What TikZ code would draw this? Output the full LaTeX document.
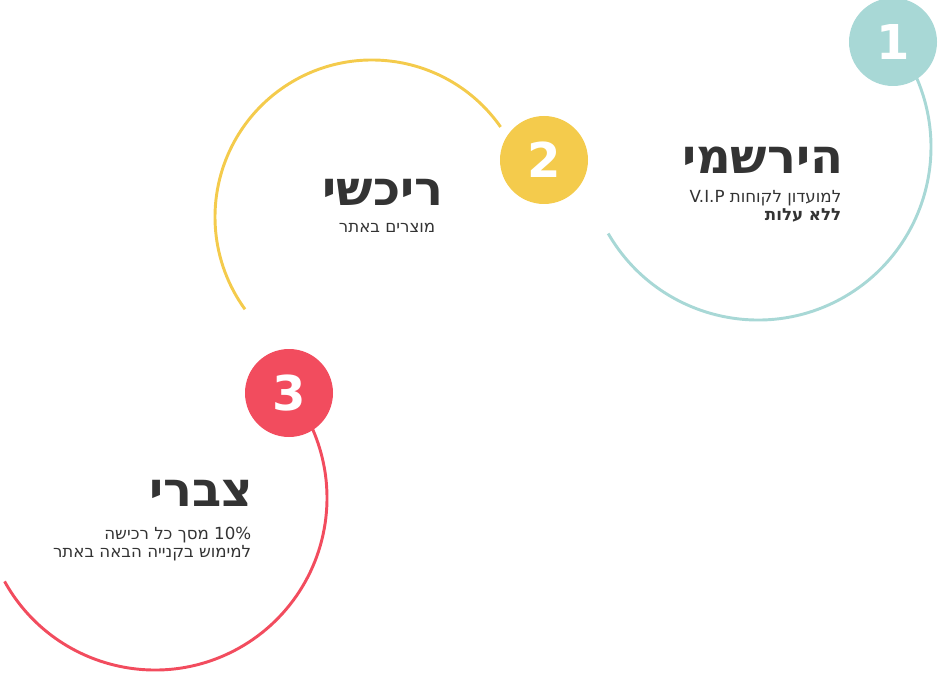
\documentclass[tikz,border=0pt]{standalone}
\usepackage{fontspec}
\setmainfont{DejaVu Sans}
\TeXXeTstate=1
\definecolor{stepteal}{HTML}{A8D8D6}
\definecolor{stepyellow}{HTML}{F4CB4C}
\definecolor{stepred}{HTML}{F24C5E}
\definecolor{steptext}{HTML}{333333}
\newcommand{\rtl}[1]{\beginR #1\endR}
\tikzset{
  ring/.style={line width=2.2pt},
  badge/.style={circle, minimum size=66pt, inner sep=0pt, text=white, font=\bfseries\fontsize{36}{36}\selectfont},
  heading/.style={anchor=east, text=steptext, font=\bfseries\fontsize{36}{36}\selectfont},
  caption/.style={anchor=north east, align=right, text=steptext, font=\fontsize{12.5}{13.5}\selectfont}
}
\begin{document}
\begin{tikzpicture}[x=0.75pt, y=-0.75pt]
\useasboundingbox (0,0) rectangle (938,673);
% rings
\draw[ring, stepteal] (758,147) ++(150:173) arc (150:-38:173);
\draw[ring, stepyellow] (372,217) ++(-35:157) arc (-35:-216:157);
\draw[ring, stepred] (155,498) ++(151:172) arc (151:-38:172);
% badges
\node[badge, fill=stepteal] (one) at (893,42) {1};
\node[badge, fill=stepyellow] (two) at (544,160) {2};
\node[badge, fill=stepred] (three) at (289,393) {3};
% texts
\node[heading] (signup) at (848,160) {\rtl{הירשמי}};
\node[caption] (signupcap) at (846,186) {\rtl{למועדון לקוחות \beginL V.I.P\endL}\\\textbf{\rtl{ללא עלות}}};
\node[heading] (buy) at (448,192) {\rtl{ריכשי}};
\node[caption] (buycap) at (440,219) {\rtl{מוצרים באתר}};
\node[heading] (collect) at (258,493) {\rtl{צברי}};
\node[caption] (collectcap) at (256,522) {\rtl{\beginL 10\%\endL{} מסך כל רכישה}\\\rtl{למימוש בקנייה הבאה באתר}};
\end{tikzpicture}
\end{document}
